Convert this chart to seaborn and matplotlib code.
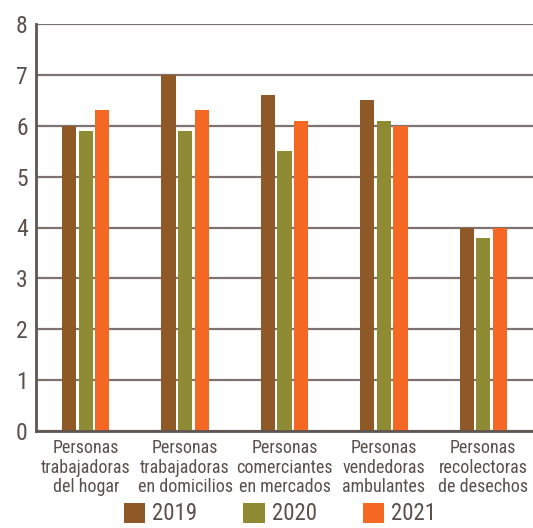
import pandas as pd
import matplotlib.pyplot as plt
import seaborn as sns
from matplotlib import font_manager
from matplotlib.ticker import FixedLocator

# datos
categorias = ['Personas\ntrabajadoras\ndel hogar',
              'Personas\ntrabajadoras\nen domicilios',
              'Personas\ncomerciantes\nen mercados',
              'Personas\nvendedoras\nambulantes',
              'Personas\nrecolectoras\nde desechos']
anios = ['2019', '2020', '2021']
valores_2019 = [6.0, 7.0, 6.6, 6.5, 4.0]
valores_2020 = [5.9, 5.9, 5.5, 6.1, 3.8]
valores_2021 = [6.3, 6.3, 6.1, 6.0, 4.0]
colores = ['#8e5927', '#8e8b34', '#f46824']

df = pd.DataFrame({
    'categoria': categorias * 3,
    'anio': [a for a in anios for _ in categorias],
    'valor': valores_2019 + valores_2020 + valores_2021,
})

sns.set_style('white')
# fuente estrecha si existe
nombres = {f.name for f in font_manager.fontManager.ttflist}
familia = ['DejaVu Sans']
for cand in ['Roboto Condensed', 'Liberation Sans Narrow', 'Roboto']:
    if cand in nombres:
        familia = [cand, 'DejaVu Sans']
        break
plt.rcParams['font.family'] = familia

texto = '#5a504c'
linea = '#7d7370'

fig = plt.figure(figsize=(5.33, 5.28), dpi=100)
ax = fig.add_axes([36 / 533, 1 - 431 / 528, 1 - 36 / 533, (431 - 24) / 528])

sns.barplot(data=df, x='categoria', y='valor', hue='anio', palette=colores,
            width=0.5, gap=0.15, ax=ax, legend=True, saturation=1,
            linewidth=0)

ax.set_ylim(0, 8)
ax.set_xlim(-0.5, 4.5)
ax.set_yticks(range(0, 9))
ax.yaxis.grid(True, color=linea, linewidth=1.6)
ax.set_axisbelow(True)
ax.set_xlabel('')
ax.set_ylabel('')

for s in ['top', 'right']:
    ax.spines[s].set_visible(False)
for s in ['left', 'bottom']:
    ax.spines[s].set_color('#5f5551')
    ax.spines[s].set_linewidth(2)

ax.tick_params(axis='y', length=0, labelsize=17, labelcolor=texto, pad=6)
ax.tick_params(axis='x', length=0, labelsize=13, labelcolor=texto, pad=6)
ax.xaxis.set_minor_locator(FixedLocator([0.5, 1.5, 2.5, 3.5]))
ax.tick_params(axis='x', which='minor', direction='in', length=7,
               width=1.3, color=linea)
for t in ax.get_xticklabels():
    t.set_linespacing(1.1)

h, l = ax.get_legend_handles_labels()
ax.get_legend().remove()
fig.legend(h, l, loc='center', bbox_to_anchor=(280 / 533, 1 - 514 / 528),
           ncol=3, frameon=False, fontsize=16.5, labelcolor=texto,
           handlelength=0.95, handleheight=0.95, columnspacing=2.0,
           handletextpad=0.3, borderpad=0, borderaxespad=0)

fig.savefig('out.png', dpi=100)
